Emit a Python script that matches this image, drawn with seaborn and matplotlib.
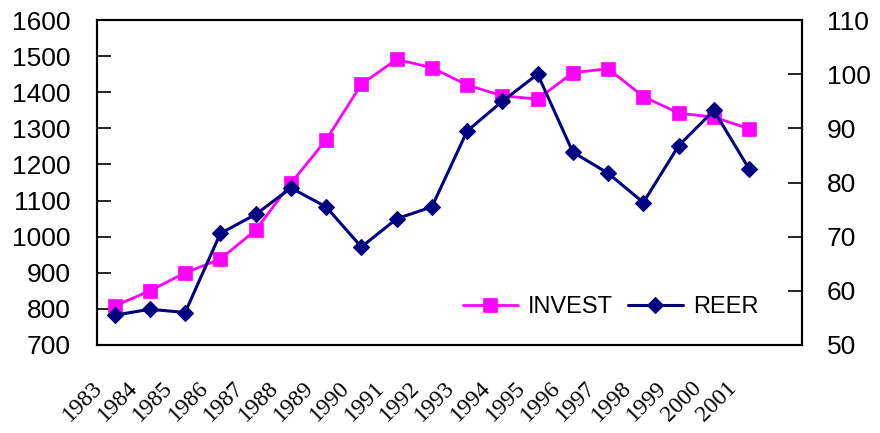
import matplotlib
matplotlib.use("Agg")
import matplotlib.pyplot as plt
from matplotlib.transforms import ScaledTranslation
import seaborn as sns
import numpy as np
import pandas as pd

# Annual series, 1983-2001
years = ["1983", "1984", "1985", "1986", "1987", "1988", "1989", "1990", "1991", "1992",
         "1993", "1994", "1995", "1996", "1997", "1998", "1999", "2000", "2001"]
invest = [808, 850, 900, 938, 1018, 1148, 1268, 1422, 1491, 1468,
          1420, 1390, 1381, 1454, 1465, 1388, 1342, 1331, 1299]
reer = [55.5, 56.6, 56.0, 70.6, 74.1, 79.0, 75.5, 68.1, 73.3, 75.5,
        89.5, 95.0, 100.0, 85.6, 81.7, 76.3, 86.8, 93.3, 82.5]

left_ticks = [700, 800, 900, 1000, 1100, 1200, 1300, 1400, 1500, 1600]
right_ticks = [50, 60, 70, 80, 90, 100, 110]
n_slots = 20  # category slots on the x axis (one spare slot after 2001)

sns.set_style("white")
plt.rcParams["font.family"] = ["Liberation Sans", "DejaVu Sans"]
plt.rcParams["text.color"] = "black"
plt.rcParams["xtick.color"] = "black"
plt.rcParams["ytick.color"] = "black"

df = pd.DataFrame({"pos": np.arange(len(years)), "INVEST": invest, "REER": reer})

fig = plt.figure(figsize=(8.8, 4.33), dpi=100)
ax = fig.add_axes([97 / 880, 1 - 345 / 433, 705 / 880, 325 / 433])
ax2 = ax.twinx()

pink = "#FF00FF"
navy = "#000080"

sns.lineplot(data=df, x="pos", y="INVEST", ax=ax, color=pink, linewidth=2.0,
             marker="s", markersize=10.5, markeredgewidth=0.5, markeredgecolor=pink,
             label="INVEST", legend=False)
sns.lineplot(data=df, x="pos", y="REER", ax=ax2, color=navy, linewidth=2.2,
             marker="D", markersize=7.8, markeredgewidth=0.8, markeredgecolor=navy,
             label="REER", legend=False)

# Axis ranges
ax.set_xlim(-0.5, n_slots - 0.5)
ax.set_ylim(left_ticks[0], left_ticks[-1])
ax2.set_ylim(right_ticks[0], right_ticks[-1])

# Category boundaries carry the tick marks, centres carry the year labels
ax.tick_params(axis="x", which="major", direction="in", length=10, width=1.2)
ax.tick_params(axis="x", which="minor", length=0, pad=23.5)
ax.set_xticks(np.arange(-0.5, n_slots, 1.0), labels=[])
ax.set_xticks(np.arange(len(years)), labels=years, minor=True,
              fontsize=17, fontfamily=["Liberation Serif", "DejaVu Serif"],
              rotation=45, ha="right", color="black")
shift = ScaledTranslation(-8 / 100, 0, fig.dpi_scale_trans)
for lbl in ax.get_xticklabels(minor=True):
    lbl.set_transform(lbl.get_transform() + shift)

ax.tick_params(axis="y", direction="in", length=10, width=1.2, pad=19)
ax.set_yticks(left_ticks, labels=[str(t) for t in left_ticks], fontsize=19, color="black")
ax2.tick_params(axis="y", direction="in", length=10, width=1.2, pad=18)
ax2.set_yticks(right_ticks, labels=[str(t) for t in right_ticks], fontsize=19, color="black")

ax.set_xlabel("")
ax.set_ylabel("")
ax2.set_ylabel("")

for a in (ax, ax2):
    for s in a.spines.values():
        s.set_visible(True)
        s.set_color("black")
        s.set_linewidth(1.5)

# Combined legend, drawn above both lines
h1, l1 = ax.get_legend_handles_labels()
h2, l2 = ax2.get_legend_handles_labels()
leg = ax2.legend(h1 + h2, l1 + l2, loc="center left", bbox_to_anchor=(0.519, 0.117),
                 ncol=2, frameon=False, borderpad=0, borderaxespad=0,
                 handlelength=2.33, handletextpad=0.42, columnspacing=0.64,
                 prop={"family": ["Liberation Sans", "DejaVu Sans"], "size": 17})
for t in leg.get_texts():
    t.set_color("black")

fig.savefig("out.png", dpi=100)
